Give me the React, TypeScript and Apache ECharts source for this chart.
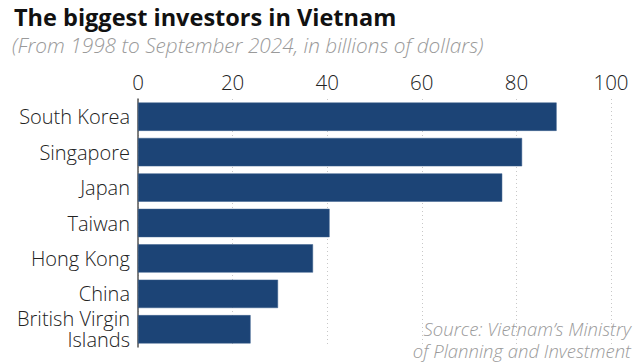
import React, { useEffect, useRef } from "react";
import * as echarts from "echarts";

const categories = [
  "South Korea",
  "Singapore",
  "Japan",
  "Taiwan",
  "Hong Kong",
  "China",
  "British Virgin\nIslands",
];
const values = [88.5, 81.2, 77.0, 40.5, 37.0, 29.6, 23.8];
const tickValues = { min: 0, max: 100, interval: 20 };
const titleText = "The biggest investors in Vietnam";
const subtitleText = "(From 1998 to September 2024, in billions of dollars)";
const sourceLines = ["Source: Vietnam\u2019s Ministry", "of Planning and Investment"];

const FONT = "'Open Sans', Lato, sans-serif";

export default function App() {
  const ref = useRef<HTMLDivElement>(null);
  useEffect(() => {
    if (!ref.current) return;
    const chart = echarts.init(ref.current, null, { renderer: "svg" });
    chart.setOption({
      animation: false,
      backgroundColor: "#ffffff",
      textStyle: { fontFamily: FONT },
      grid: { left: 138, right: 28, top: 99, bottom: 17, containLabel: false },
      xAxis: {
        type: "value",
        position: "top",
        min: tickValues.min,
        max: tickValues.max,
        interval: tickValues.interval,
        axisLine: { show: false },
        axisTick: { show: false },
        axisLabel: { fontSize: 20.5, color: "#222", margin: 7, fontFamily: FONT, fontWeight: 300 },
        splitLine: { show: true, lineStyle: { color: "#c8c8c8", type: [1, 3], width: 1 } },
      },
      yAxis: {
        type: "category",
        data: categories,
        inverse: true,
        axisLine: { show: true, lineStyle: { color: "#555", width: 1.5 } },
        axisTick: { show: false },
        axisLabel: { fontSize: 20, color: "#222", margin: 8, fontFamily: FONT, fontWeight: 300, lineHeight: 21, align: "right" },
      },
      series: [
        {
          type: "bar",
          data: values,
          barCategoryGap: "20%",
          itemStyle: { color: "#1c4476", borderColor: "#3a5f8c", borderWidth: 0.5 },
        },
      ],
      graphic: [
        {
          type: "text",
          left: 14,
          top: 5,
          style: { text: titleText, fontSize: 23.5, fontWeight: "bold", fill: "#111", fontFamily: FONT },
        },
        {
          type: "text",
          left: 12,
          top: 34,
          style: { text: subtitleText, fontSize: 20.8, fontStyle: "italic", fontWeight: 300, fill: "#9a9a9a", fontFamily: FONT },
        },
        {
          type: "text",
          right: 8,
          top: 319,
          style: {
            text: sourceLines[0],
            fontSize: 18.5,
            fontStyle: "italic",
            fontWeight: 300,
            fill: "#9a9a9a",
            align: "right",
            fontFamily: FONT,
          },
        },
        {
          type: "text",
          right: 8,
          top: 341,
          style: {
            text: sourceLines[1],
            fontSize: 18.5,
            fontStyle: "italic",
            fontWeight: 300,
            fill: "#9a9a9a",
            align: "right",
            fontFamily: FONT,
          },
        },
      ],
    });
    return () => chart.dispose();
  }, []);
  return <div ref={ref} style={{ width: 639, height: 364, position: "absolute", left: 0, top: 0 }} />;
}
